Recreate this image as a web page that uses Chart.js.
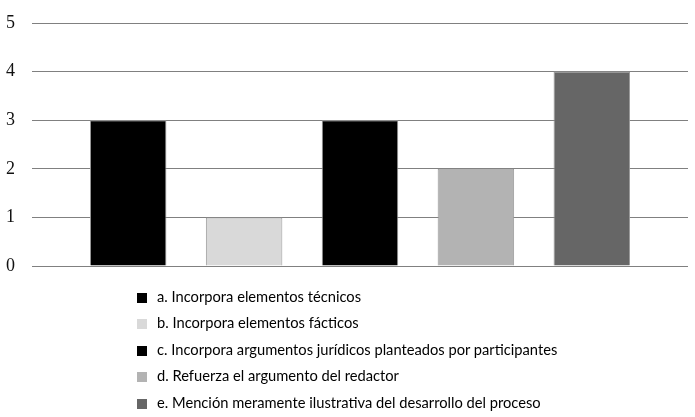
<!DOCTYPE html>
<html>
<head>
<meta charset="utf-8">
<script src="https://cdn.jsdelivr.net/npm/chart.js@4.4.0/dist/chart.umd.min.js"></script>
<style>
    body { margin: 0; background: #fff; }
    #wrap { position: relative; width: 695px; height: 417px; }
    #legend { position: absolute; left: 137px; top: 283px; margin: 0; padding: 0; list-style: none;
              font-family: "Lato", sans-serif; font-size: 14.7px; color: #000; }
    #legend li { height: 26.4px; line-height: 26.4px; white-space: nowrap; }
    #legend span { display: inline-block; width: 10px; height: 10px; margin-right: 10px; vertical-align: -1px; }
</style>
</head>
<body>
<div id="wrap">
    <canvas id="myChart" width="695" height="417"></canvas>
    <ul id="legend"></ul>
</div>
<script>
var categories = [
    "a. Incorpora elementos técnicos",
    "b. Incorpora elementos fácticos",
    "c. Incorpora argumentos jurídicos planteados por participantes",
    "d. Refuerza el argumento del redactor",
    "e. Mención meramente ilustrativa del desarrollo del proceso"
];
var values = [3, 1, 3, 2, 4];
var barColors = ["#000000", "#d9d9d9", "#000000", "#b3b3b3", "#666666"];
var yTicks = [0, 1, 2, 3, 4, 5];

function BarChart() {
    var points = values.map(function (v, i) { return {x: i, y: v}; });

    new Chart("myChart", {
        type: "bar",
        data: {
            datasets: [{
                    data: points,
                    backgroundColor: barColors,
                    borderColor: "#999999",
                    borderWidth: 1,
                    barPercentage: 0.66,
                    categoryPercentage: 1
                }]
        },
        options: {
            responsive: false,
            animation: false,
            layout: {padding: {left: 0, right: 7, top: 23, bottom: 143}},
            plugins: {
                legend: {display: false},
                tooltip: {enabled: false}
            },
            scales: {
                x: {
                    type: "linear",
                    offset: false,
                    min: -0.83,
                    max: 4.83,
                    afterBuildTicks: function (axis) {
                        axis.ticks = categories.map(function (c, i) { return {value: i}; });
                    },
                    ticks: {display: false},
                    grid: {display: false},
                    border: {display: false}
                },
                y: {
                    min: 0,
                    max: 5,
                    afterBuildTicks: function (axis) {
                        axis.ticks = yTicks.map(function (v) { return {value: v}; });
                    },
                    afterFit: function (axis) {
                        axis.width = 32;
                        axis.paddingTop = 0;
                        axis.paddingBottom = 0;
                    },
                    ticks: {
                        color: "#111",
                        padding: 17,
                        font: {family: "Liberation Serif", size: 18}
                    },
                    grid: {color: "#808080", lineWidth: 1, drawTicks: false},
                    border: {display: false}
                }
            }
        }
    });
}

function buildLegend() {
    var ul = document.getElementById("legend");
    categories.forEach(function (c, i) {
        var li = document.createElement("li");
        var box = document.createElement("span");
        box.style.background = barColors[i];
        li.appendChild(box);
        li.appendChild(document.createTextNode(c));
        ul.appendChild(li);
    });
}

BarChart();
buildLegend();
</script>
</body>
</html>
